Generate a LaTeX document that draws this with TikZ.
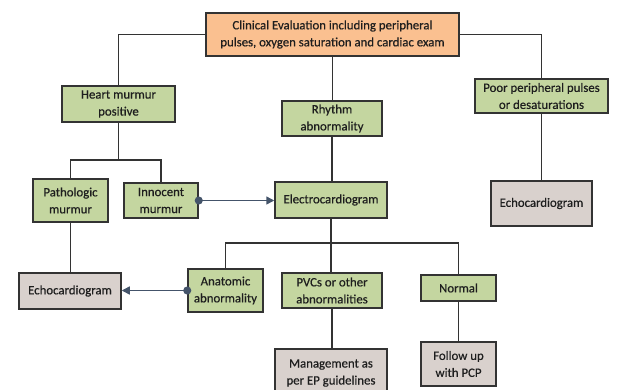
\documentclass[tikz,border=0pt]{standalone}
\usepackage{fontspec}
\setmainfont{Carlito}
\newfontfamily\boxfont{Carlito}[FakeBold=0.5]
\usetikzlibrary{arrows.meta}

\definecolor{boxline}{HTML}{333333}
\definecolor{txt}{HTML}{1E1E1E}
\definecolor{orangefill}{HTML}{FAC090}
\definecolor{greenfill}{HTML}{C4D6A0}
\definecolor{greyfill}{HTML}{D9D1CD}
\definecolor{linkblue}{HTML}{44546A}

\tikzset{
  box/.style={draw=boxline, line width=1.5pt, inner sep=0pt, align=center,
              text=txt, font=\boxfont\fontsize{12.8}{17}\selectfont},
  startbox/.style={box, fill=orangefill},
  findbox/.style={box, fill=greenfill},
  actionbox/.style={box, fill=greyfill},
  wire/.style={draw=boxline, line width=1.5pt},
  link/.style={draw=linkblue, line width=1.5pt, shorten <=-4pt,
               {Circle[length=8pt,width=8pt]}-{Triangle[length=8pt,width=8pt]}},
}

\begin{document}
\begin{tikzpicture}[x=1pt, y=-1pt]
  \useasboundingbox (0,0) rectangle (622,389);
  \clip (0,0) rectangle (622,389);
  \fill[white] (0,0) rectangle (622,389);

  % boxes
  \node[startbox, minimum width=253pt, minimum height=43pt] (eval) at (332.5,34.5)
    {Clinical Evaluation including peripheral\\pulses, oxygen saturation and cardiac exam};
  \node[findbox, minimum width=113pt, minimum height=36pt] (heart) at (118.5,104)
    {Heart murmur\\positive};
  \node[findbox, minimum width=100pt, minimum height=35pt] (rhythm) at (332,118.5)
    {Rhythm\\abnormality};
  \node[findbox, minimum width=133pt, minimum height=34pt] (poor) at (541.5,96)
    {Poor peripheral pulses\\or desaturations};
  \node[findbox, minimum width=75pt, minimum height=43pt] (patho) at (70.5,200.5)
    {Pathologic\\murmur};
  \node[findbox, minimum width=74pt, minimum height=35pt] (innoc) at (161,200.5)
    {Innocent\\murmur};
  \node[findbox, minimum width=112pt, minimum height=36pt] (ecg) at (331,200)
    {Electrocardiogram};
  \node[actionbox, minimum width=101pt, minimum height=45pt] (echoR) at (541.5,203.5)
    {Echocardiogram};
  \node[actionbox, minimum width=102pt, minimum height=36pt] (echoL) at (70,291)
    {Echocardiogram};
  \node[findbox, minimum width=75pt, minimum height=43pt] (anat) at (225.5,290.5)
    {Anatomic\\abnormality};
  \node[findbox, minimum width=100pt, minimum height=35pt] (pvc) at (332,290.5)
    {PVCs or other\\abnormalities};
  \node[findbox, minimum width=75pt, minimum height=26pt] (normal) at (458.5,288)
    {Normal};
  \node[actionbox, minimum width=112pt, minimum height=48pt] (mgmt) at (331,373)
    {Management as\\per EP guidelines};
  \node[actionbox, minimum width=75pt, minimum height=44pt] (follow) at (458.5,364)
    {Follow up\\with PCP};

  % tree connectors
  \draw[wire] (eval.west) -| (heart.north);
  \draw[wire] (eval.east) -| (poor.north);
  \draw[wire] (eval.south) -- (eval.south |- rhythm.north);
  \draw[wire] (rhythm.south) -- (rhythm.south |- ecg.north);
  \draw[wire] (heart.south) -- ++(0,37) coordinate (hsplit);
  \draw[wire] (patho.north) |- (hsplit) -| (innoc.north);
  \draw[wire] (patho.south) -- (patho.south |- echoL.north);
  \draw[wire] (poor.south) -- (poor.south |- echoR.north);
  \draw[wire] (ecg.south) -- ++(0,24) coordinate (esplit);
  \draw[wire] (anat.north) |- (esplit) -| (normal.north);
  \draw[wire] (esplit) -- (esplit |- pvc.north);
  \draw[wire] (pvc.south) -- (pvc.south |- mgmt.north);
  \draw[wire] (normal.south) -- (normal.south |- follow.north);

  % cross links
  \draw[link] (innoc.east) -- (innoc.east -| ecg.west);
  \draw[link] (anat.west) -- (anat.west -| echoL.east);
\end{tikzpicture}
\end{document}
